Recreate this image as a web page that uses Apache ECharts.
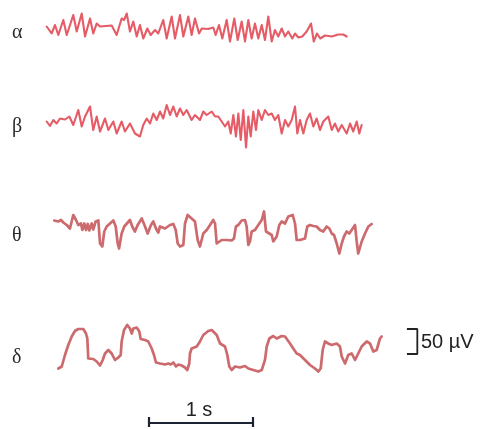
<!DOCTYPE html>
<html><head><meta charset="utf-8">
<script src="https://cdn.jsdelivr.net/npm/echarts@6/dist/echarts.min.js"></script>
<style>html,body{margin:0;padding:0;background:#fff}#c{width:481px;height:429px}</style>
</head><body><div id="c"></div>
<script>
// EEG rhythm samples: [time in ms, amplitude in µV]
const bandLabels = ['α', 'β', 'θ', 'δ'];
const alpha = [[16,3],[64,-11],[96,6],[128,-14],[176,16],[209,-14],[272,26],[305,-7],[353,29],[385,-17],[433,19],[464,-11],[497,9],[529,3],[641,5],[689,-14],[737,19],[760,16],[786,29],[817,-7],[849,13],[882,-17],[913,6],[945,-21],[984,-1],[1016,-14],[1058,-4],[1089,-11],[1137,16],[1170,-21],[1218,23],[1250,-21],[1298,26],[1330,-17],[1378,23],[1410,-14],[1442,19],[1481,-11],[1507,-1],[1570,-2],[1618,1],[1641,-14],[1673,6],[1705,-21],[1747,16],[1779,-27],[1820,19],[1853,-24],[1891,13],[1923,-27],[1955,16],[1987,-21],[2019,9],[2051,-21],[2084,6],[2115,-24],[2147,23],[2180,-27],[2211,-4],[2243,-17],[2276,-1],[2308,-17],[2339,-7],[2378,-21],[2404,-11],[2436,-19],[2474,-17],[2516,-7],[2558,9],[2584,-27],[2615,-11],[2647,-21],[2692,-15],[2757,-17],[2820,-13],[2868,-13],[2901,-17]];
const beta = [[16,-3],[48,-12],[80,0],[112,-7],[144,3],[192,1],[234,7],[272,-10],[320,20],[353,-13],[385,7],[433,27],[464,-20],[497,7],[529,-23],[577,3],[609,-20],[657,-3],[689,-27],[737,-3],[769,-23],[817,-7],[865,-27],[913,-33],[945,-10],[978,3],[1010,-7],[1041,13],[1074,0],[1106,17],[1137,3],[1170,30],[1202,10],[1234,27],[1266,7],[1298,23],[1330,10],[1362,20],[1410,0],[1442,10],[1490,0],[1522,17],[1555,10],[1603,17],[1635,7],[1666,7],[1699,-3],[1731,-13],[1762,-3],[1786,-27],[1811,10],[1836,-33],[1859,13],[1882,-40],[1907,20],[1933,-55],[1955,7],[1978,-33],[2003,17],[2029,-20],[2051,20],[2084,0],[2115,20],[2147,10],[2180,13],[2211,0],[2243,10],[2276,-27],[2308,0],[2339,-13],[2372,0],[2404,27],[2426,-27],[2452,0],[2484,-27],[2516,0],[2548,13],[2580,-13],[2612,3],[2644,-20],[2676,-3],[2724,7],[2757,-20],[2788,-7],[2820,-23],[2853,-10],[2901,-27],[2933,-7],[2964,-23],[2997,-3],[3022,-27],[3045,-10]];
const theta = [[89,23],[106,27],[128,21],[154,24],[176,19],[209,14],[240,7],[272,34],[298,24],[320,14],[346,17],[359,4],[378,17],[394,4],[411,16],[426,3],[449,17],[464,5],[487,21],[513,23],[529,-23],[551,-29],[570,1],[593,11],[625,17],[657,23],[680,11],[699,-23],[712,-33],[737,-3],[762,11],[817,24],[839,11],[865,1],[891,14],[930,27],[962,11],[987,-3],[1019,14],[1041,21],[1067,7],[1089,-1],[1106,11],[1154,7],[1202,14],[1234,16],[1257,4],[1276,-23],[1298,-29],[1330,-26],[1346,17],[1372,34],[1410,27],[1442,21],[1468,-16],[1490,-29],[1522,-3],[1555,4],[1587,14],[1618,24],[1635,17],[1651,-23],[1666,-23],[1699,-16],[1747,-16],[1795,-17],[1817,-13],[1836,11],[1859,14],[1891,23],[1923,24],[1939,11],[1955,-26],[1971,-19],[1987,1],[2019,4],[2051,14],[2084,24],[2106,41],[2125,1],[2157,-3],[2180,-6],[2195,-19],[2211,-23],[2228,-9],[2253,14],[2276,21],[2308,17],[2339,31],[2382,34],[2404,17],[2420,-16],[2452,-16],[2500,-13],[2522,11],[2548,14],[2580,12],[2612,11],[2644,4],[2676,1],[2708,11],[2734,7],[2757,-3],[2779,-6],[2805,-23],[2830,-43],[2853,-23],[2875,-9],[2901,1],[2926,-3],[2949,4],[2981,14],[2997,-19],[3012,-43],[3045,-19],[3077,-3],[3109,11],[3141,16]];
const delta = [[128,-41],[161,-37],[192,-14],[224,6],[257,23],[288,34],[320,38],[368,38],[394,29],[407,19],[416,-21],[433,-19],[464,-22],[497,-27],[529,-35],[555,-24],[577,-11],[609,-4],[641,-11],[673,-24],[705,-19],[728,-14],[737,13],[760,36],[791,46],[817,39],[834,29],[849,39],[882,41],[907,33],[920,18],[962,16],[993,13],[1026,-1],[1048,-14],[1067,-29],[1106,-31],[1154,-33],[1186,-31],[1209,-33],[1234,-29],[1260,-37],[1282,-33],[1314,-35],[1346,-39],[1368,-44],[1387,-31],[1394,-11],[1410,-1],[1459,3],[1490,13],[1522,26],[1570,34],[1603,36],[1651,26],[1683,9],[1731,3],[1753,-14],[1772,-37],[1795,-44],[1827,-37],[1875,-39],[1923,-36],[1955,-41],[2003,-44],[2051,-47],[2084,-44],[2115,-24],[2132,3],[2157,19],[2195,24],[2228,19],[2276,24],[2308,23],[2356,9],[2387,-1],[2420,-11],[2452,-14],[2500,-24],[2548,-34],[2596,-41],[2628,-47],[2651,-41],[2670,-4],[2692,13],[2724,9],[2757,6],[2805,9],[2836,3],[2853,-17],[2885,-31],[2916,-14],[2949,-11],[2981,-24],[3012,-11],[3045,3],[3093,13],[3125,9],[3157,-7],[3189,-4],[3221,19],[3237,23]];
// calibration bars
const timeBarMs = [1000, 2000];
const timeBarLabel = '1 s';
const voltBarTimeMs = [3480, 3580];
const voltBarUv = [-12, 38];
const voltBarLabel = '50 µV';

const traces = [alpha, beta, theta, delta];
// layout (px)
const gridLeft = 45, gridRight = 20;
const tMax = 4000;
const gridTops = [8, 90, 202, 318, 417];
const gridHeights = [40, 60, 60, 60, 10];
const yRanges = [[-40,40],[-60,60],[-60,60],[-60,60],[-1,1]];
const colors = ['#e55c66', '#e55c66', '#cc6a6d', '#cc6a6d'];
const widths = [2.1, 2.1, 2.7, 2.7];
const labelY = [33, 127, 236, 358];

const grid = gridTops.map((t,i)=>({left:gridLeft, right:gridRight, top:t, height:gridHeights[i]}));
const xAxis = grid.map((g,i)=>({type:'value', gridIndex:i, min:0, max:tMax, show:false}));
const yAxis = grid.map((g,i)=>({type:'value', gridIndex:i, min:yRanges[i][0], max:yRanges[i][1], show:false}));
const series = traces.map((d,i)=>({
  type:'line', xAxisIndex:i, yAxisIndex:i, data:d, showSymbol:false, symbol:'none',
  lineStyle:{color:colors[i], width:widths[i], join:'round', cap:'round'}, clip:false, silent:true
}));
// time bar in grid 4
series.push({type:'line', xAxisIndex:4, yAxisIndex:4, symbol:'none', clip:false, silent:true,
  data:[[timeBarMs[0],1],[timeBarMs[0],-1],[timeBarMs[0],-0.2],[timeBarMs[1],-0.2],[timeBarMs[1],1],[timeBarMs[1],-1]],
  lineStyle:{color:'#1c2333', width:2.2}});
// voltage bracket in delta grid
series.push({type:'line', xAxisIndex:3, yAxisIndex:3, symbol:'none', clip:false, silent:true,
  data:[[voltBarTimeMs[0],voltBarUv[1]],[voltBarTimeMs[1],voltBarUv[1]],[voltBarTimeMs[1],voltBarUv[0]],[voltBarTimeMs[0],voltBarUv[0]]],
  lineStyle:{color:'#222', width:1.8}});

const graphic = bandLabels.map((s,i)=>({type:'text', x:12, y:labelY[i],
  style:{text:s, font:'20px "Liberation Serif"', fill:'#2a2a2a', textVerticalAlign:'middle'}}));
graphic.push({type:'text', x:199, y:410, style:{text:timeBarLabel, font:'20px "Liberation Sans"', fill:'#222', textAlign:'center', textVerticalAlign:'middle'}});
graphic.push({type:'text', x:421, y:342, style:{text:voltBarLabel, font:'20px "Liberation Sans"', fill:'#222', textVerticalAlign:'middle'}});

const chart = echarts.init(document.getElementById('c'), null, {renderer:'canvas'});
chart.setOption({animation:false, backgroundColor:'#fff', grid, xAxis, yAxis, series, graphic});
</script></body></html>
